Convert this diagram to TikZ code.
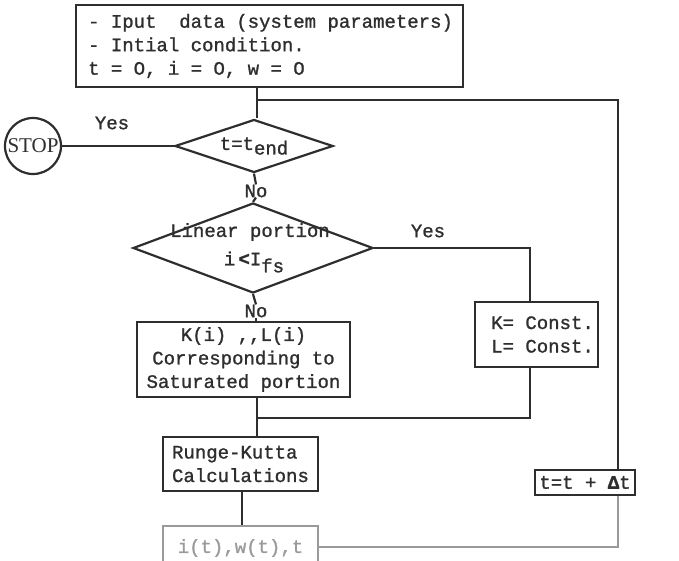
\documentclass[tikz,border=0pt]{standalone}
\usepackage{fontspec}
\setmainfont[FakeBold=1.2]{Liberation Mono}
\newfontfamily\stopfont{Liberation Serif}
\usetikzlibrary{shapes.geometric}
\definecolor{ink}{HTML}{2E2E2E}
\definecolor{faded}{HTML}{9A9A9A}
% typewriter text; \tsp is one full character cell of blank
\newcommand\twfont{\fontsize{19}{23.5}\selectfont}
\newcommand\tsp{\hspace*{11.4pt}}
\tikzset{
  x=1pt, y=-1pt,
  every node/.style={text=ink, font=\twfont},
  flow/.style={draw=ink, line width=2.2pt},
  box/.style={flow, rectangle, inner sep=0pt},
  decision/.style={flow, diamond, inner sep=0pt, aspect=2},
  lbl/.style={inner sep=0pt},
  wire/.style={draw=ink, line width=2.2pt},
}
\begin{document}
\begin{tikzpicture}
\useasboundingbox (0,0) rectangle (679,561);

% initial data block
\node[box, minimum width=387pt, minimum height=82pt, text width=373pt,
      inner xsep=7pt, align=left, anchor=west] (init) at (75,46)
  {\hspace*{5pt}-\tsp Iput\tsp\tsp data\tsp(system\tsp parameters)\\
   \hspace*{5pt}-\tsp Intial\tsp condition.\\
   \hspace*{5pt}t\tsp=\tsp O,\tsp i\tsp=\tsp O,\tsp w\tsp=\tsp O};

% stop terminal
\node[flow, circle, minimum size=56pt, inner sep=0pt, font=\stopfont\fontsize{21}{22}\selectfont] (stop) at (33,146) {STOP};

% end-time test
\node[decision, minimum width=158pt, minimum height=53pt] (tend) at (254,146)
  {t=t\raisebox{-0.45ex}{end}};

% linearity test
\node[decision, minimum width=240pt, minimum height=90pt] (lin) at (253,248) {};
\node[lbl] (lintxt1) at (250,232) {Linear\tsp portion};
\node[lbl] (lintxt2) at (254,262) {i\,\textbf{<}I\raisebox{-0.7ex}{fs}};

% saturated coefficients
\node[box, minimum width=213pt, minimum height=75pt, align=center] (sat) at (243.5,359.5)
  {K(i)\tsp,{},L(i)\\Corresponding\tsp to\\Saturated\tsp portion};

% linear coefficients
\node[box, minimum width=123pt, minimum height=65pt, align=left] (const) at (536.5,334.5)
  {\hspace*{12pt}K=\tsp Const.\\\hspace*{12pt}L=\tsp Const.};

% integration step
\node[box, minimum width=155pt, minimum height=54pt, align=left] (rk) at (240.5,464)
  {Runge-Kutta\\Calculations};

% results
\node[flow, draw=faded, rectangle, inner sep=0pt, minimum width=155pt, minimum height=44pt,
      text=faded] (res) at (240.5,548) {i(t),w(t),t};

% time increment
\node[box, minimum width=100pt, minimum height=25pt] (inc) at (585,482.5)
  {t=t\tsp+\tsp\textbf{Δ}t};

% labels
\node[lbl] (yes1) at (112,123) {Yes};
\node[lbl] (yes2) at (428,231) {Yes};
\node[lbl] (no1) at (256,191) {No};
\node[lbl] (no2) at (256,311) {No};

% junction points
\coordinate (j1) at (257,100);
\coordinate (j2) at (618,100);
\coordinate (j3) at (530,248);
\coordinate (j4) at (257,418);
\coordinate (j5) at (530,418);
\coordinate (j6) at (618,547);

% connectors
\draw[wire] (init.south -| j1) -- (j1) -- (tend.north -| j1);
\draw[wire] (j1) -- (j2) -- (inc.north -| j2);
\draw[wire] (stop.east) -- (tend.west);
\draw[wire] (tend.south) -- (no1.north);
\draw[wire] (no1.south) -- (lin.north);
\draw[wire] (lin.south) -- (no2.north);
\draw[wire] (no2.south) -- (sat.north -| no2.south);
\draw[wire] (lin.east) -- (j3) -- (const.north -| j3);
\draw[wire] (sat.south -| j4) -- (j4) -- (j5) -- (const.south -| j5);
\draw[wire] (j4) -- (rk.north -| j4);
\draw[wire] (rk.south -| 242,0) -- (res.north -| 242,0);
\draw[wire, draw=faded] (res.east |- j6) -- (j6) -- (inc.south -| j6);
\end{tikzpicture}
\end{document}
